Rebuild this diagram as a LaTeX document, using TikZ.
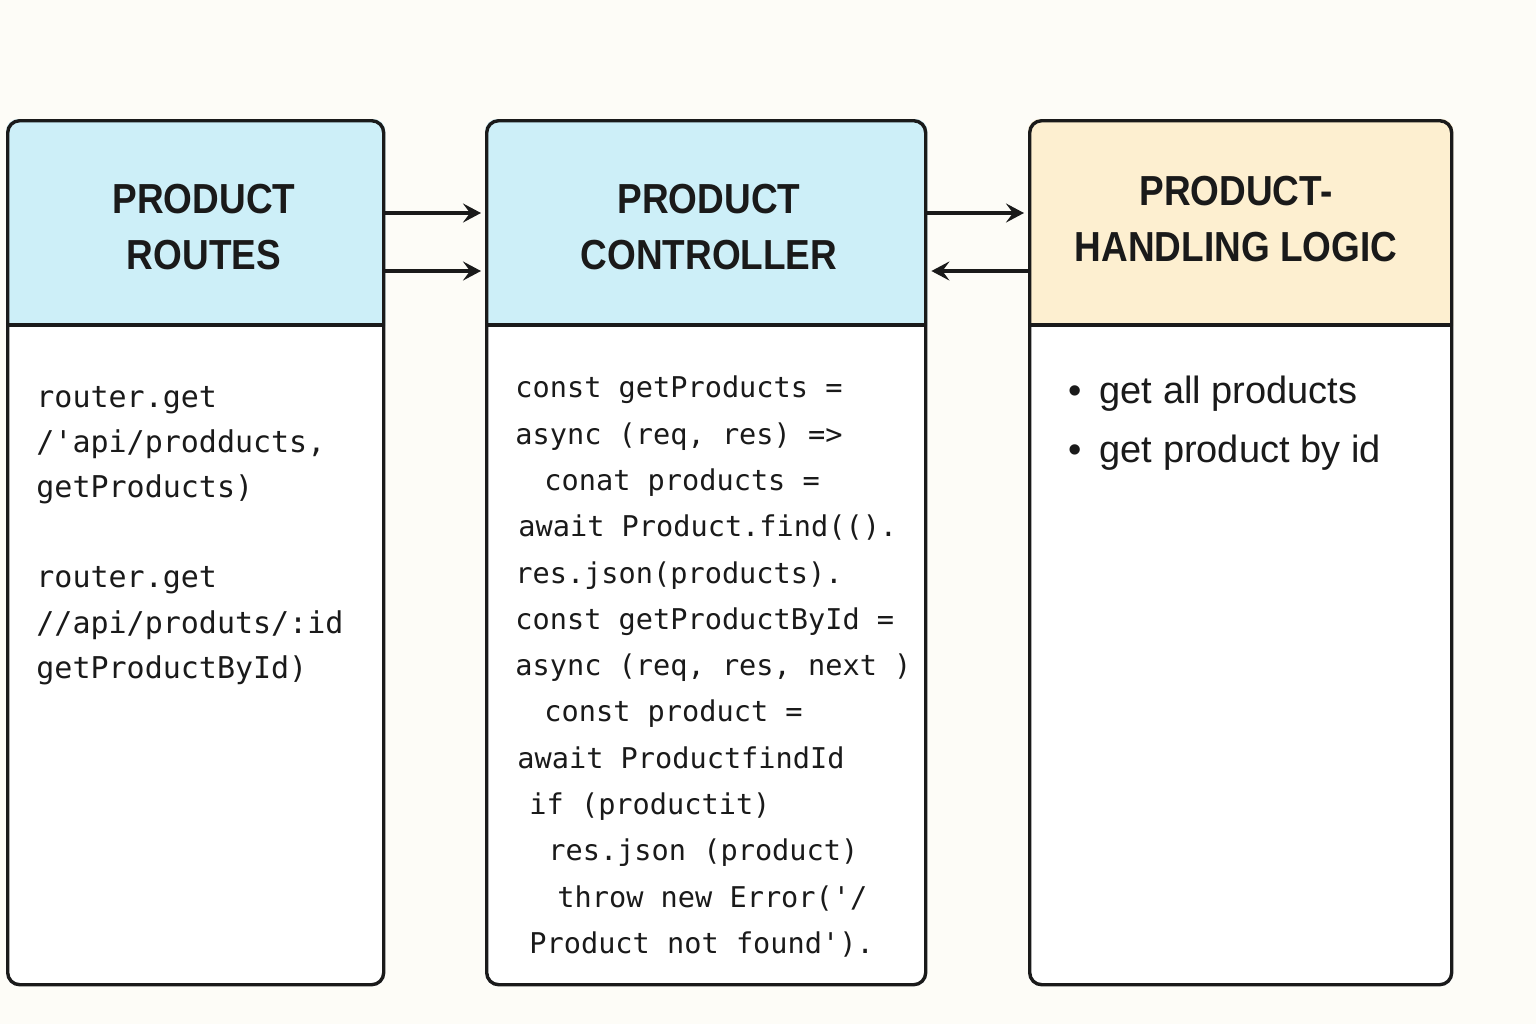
\documentclass[tikz,border=0pt]{standalone}
\usepackage{fontspec}
\setmainfont{Liberation Sans}
\setmonofont{DejaVu Sans Mono}
\newfontfamily\headsans[FakeStretch=0.88]{Liberation Sans}
\usetikzlibrary{arrows.meta,backgrounds}

\definecolor{pagecream}{HTML}{FDFCF7}
\definecolor{headblue}{HTML}{CDEFF8}
\definecolor{headsand}{HTML}{FDEFD0}
\definecolor{inkline}{HTML}{1A1A1A}

\begin{document}
\begin{tikzpicture}[x=0.5pt, y=-0.5pt,
  panel/.style={draw=inkline, line width=1.7pt, rounded corners=6pt, anchor=north west, minimum height=432pt, inner sep=0pt},
  headtext/.style={anchor=north, align=center, inner sep=0pt, text=inkline, font=\headsans\bfseries\fontsize{21}{28}\selectfont},
  codetext/.style={anchor=north west, align=left, inner sep=0pt, text=inkline},
  flow/.style={draw=inkline, line width=1.7pt, shorten >=2pt, -{Stealth[length=9pt, width=9.5pt, inset=3.5pt]}}]
\useasboundingbox (0,0) rectangle (1536,1024);
% panels
\node[panel, minimum width=188pt] (routes) at (6,119) {};
\node[panel, minimum width=219.5pt] (ctrl) at (485,119) {};
\node[panel, minimum width=211pt] (logic) at (1028,119) {};
% fills
\begin{scope}[on background layer]
\fill[pagecream] (0,0) rectangle (1536,1024);
\fill[white, rounded corners=6pt] (routes.north west) rectangle (routes.south east);
\fill[white, rounded corners=6pt] (ctrl.north west) rectangle (ctrl.south east);
\fill[white, rounded corners=6pt] (logic.north west) rectangle (logic.south east);
\begin{scope}
\clip (routes.north west) rectangle (routes.east |- 0,325);
\fill[headblue, rounded corners=6pt] (routes.north west) rectangle (routes.south east);
\end{scope}
\begin{scope}
\clip (ctrl.north west) rectangle (ctrl.east |- 0,325);
\fill[headblue, rounded corners=6pt] (ctrl.north west) rectangle (ctrl.south east);
\end{scope}
\begin{scope}
\clip (logic.north west) rectangle (logic.east |- 0,325);
\fill[headsand, rounded corners=6pt] (logic.north west) rectangle (logic.south east);
\end{scope}
\end{scope}
\draw[inkline, line width=1.7pt] (routes.west |- 0,325) -- (routes.east |- 0,325);
\draw[inkline, line width=1.7pt] (ctrl.west |- 0,325) -- (ctrl.east |- 0,325);
\draw[inkline, line width=1.7pt] (logic.west |- 0,325) -- (logic.east |- 0,325);
% titles
\node[headtext] (routestitle) at (204,174) {\strut PRODUCT\\ROUTES};
\node[headtext] (ctrltitle) at (709,174) {\strut PRODUCT\\CONTROLLER};
\node[headtext] (logictitle) at (1236,166) {\strut PRODUCT-\\HANDLING LOGIC};
% bodies
\node[codetext, font=\ttfamily\fontsize{15}{22.6}\selectfont] (routescode) at (36,375)
  {\strut router.get\\/\textquotesingle api/prodducts,\\getProducts)\\[22.6pt]router.get\\//api/produts/:id\\getProductById)};
\node[codetext, font=\ttfamily\fontsize{14.3}{23.15}\selectfont] (ctrlcode) at (515,365)
  {\strut const getProducts =\\
   async (req, res) =>\\
   \hspace*{14.5pt}conat products =\\
   \hspace*{1.5pt}await Product.find(().\\
   res.json(products).\\
   const getProductById =\\
   async (req, res, next )\\
   \hspace*{14.5pt}const product =\\
   \hspace*{1pt}await ProductfindId\\
   \hspace*{7pt}if (productit)\\
   \hspace*{16.5pt}res.json (product)\\
   \hspace*{21pt}throw new Error(\textquotesingle/\\
   \hspace*{7pt}Product not found\textquotesingle).};
\node[codetext, font=\fontsize{19}{29.5}\selectfont] (logiclist) at (1068,362)
  {\strut\textbullet\hspace{9pt}get all products\\\textbullet\hspace{9pt}get product by id};
% arrows
\draw[flow] ([yshift=-47pt]routes.north east) -- ([yshift=-47pt]ctrl.north west);
\draw[flow] ([yshift=-76pt]routes.north east) -- ([yshift=-76pt]ctrl.north west);
\draw[flow] ([yshift=-47pt]ctrl.north east) -- ([yshift=-47pt]logic.north west);
\draw[flow] ([yshift=-76pt]logic.north west) -- ([yshift=-76pt]ctrl.north east);
\end{tikzpicture}
\end{document}
